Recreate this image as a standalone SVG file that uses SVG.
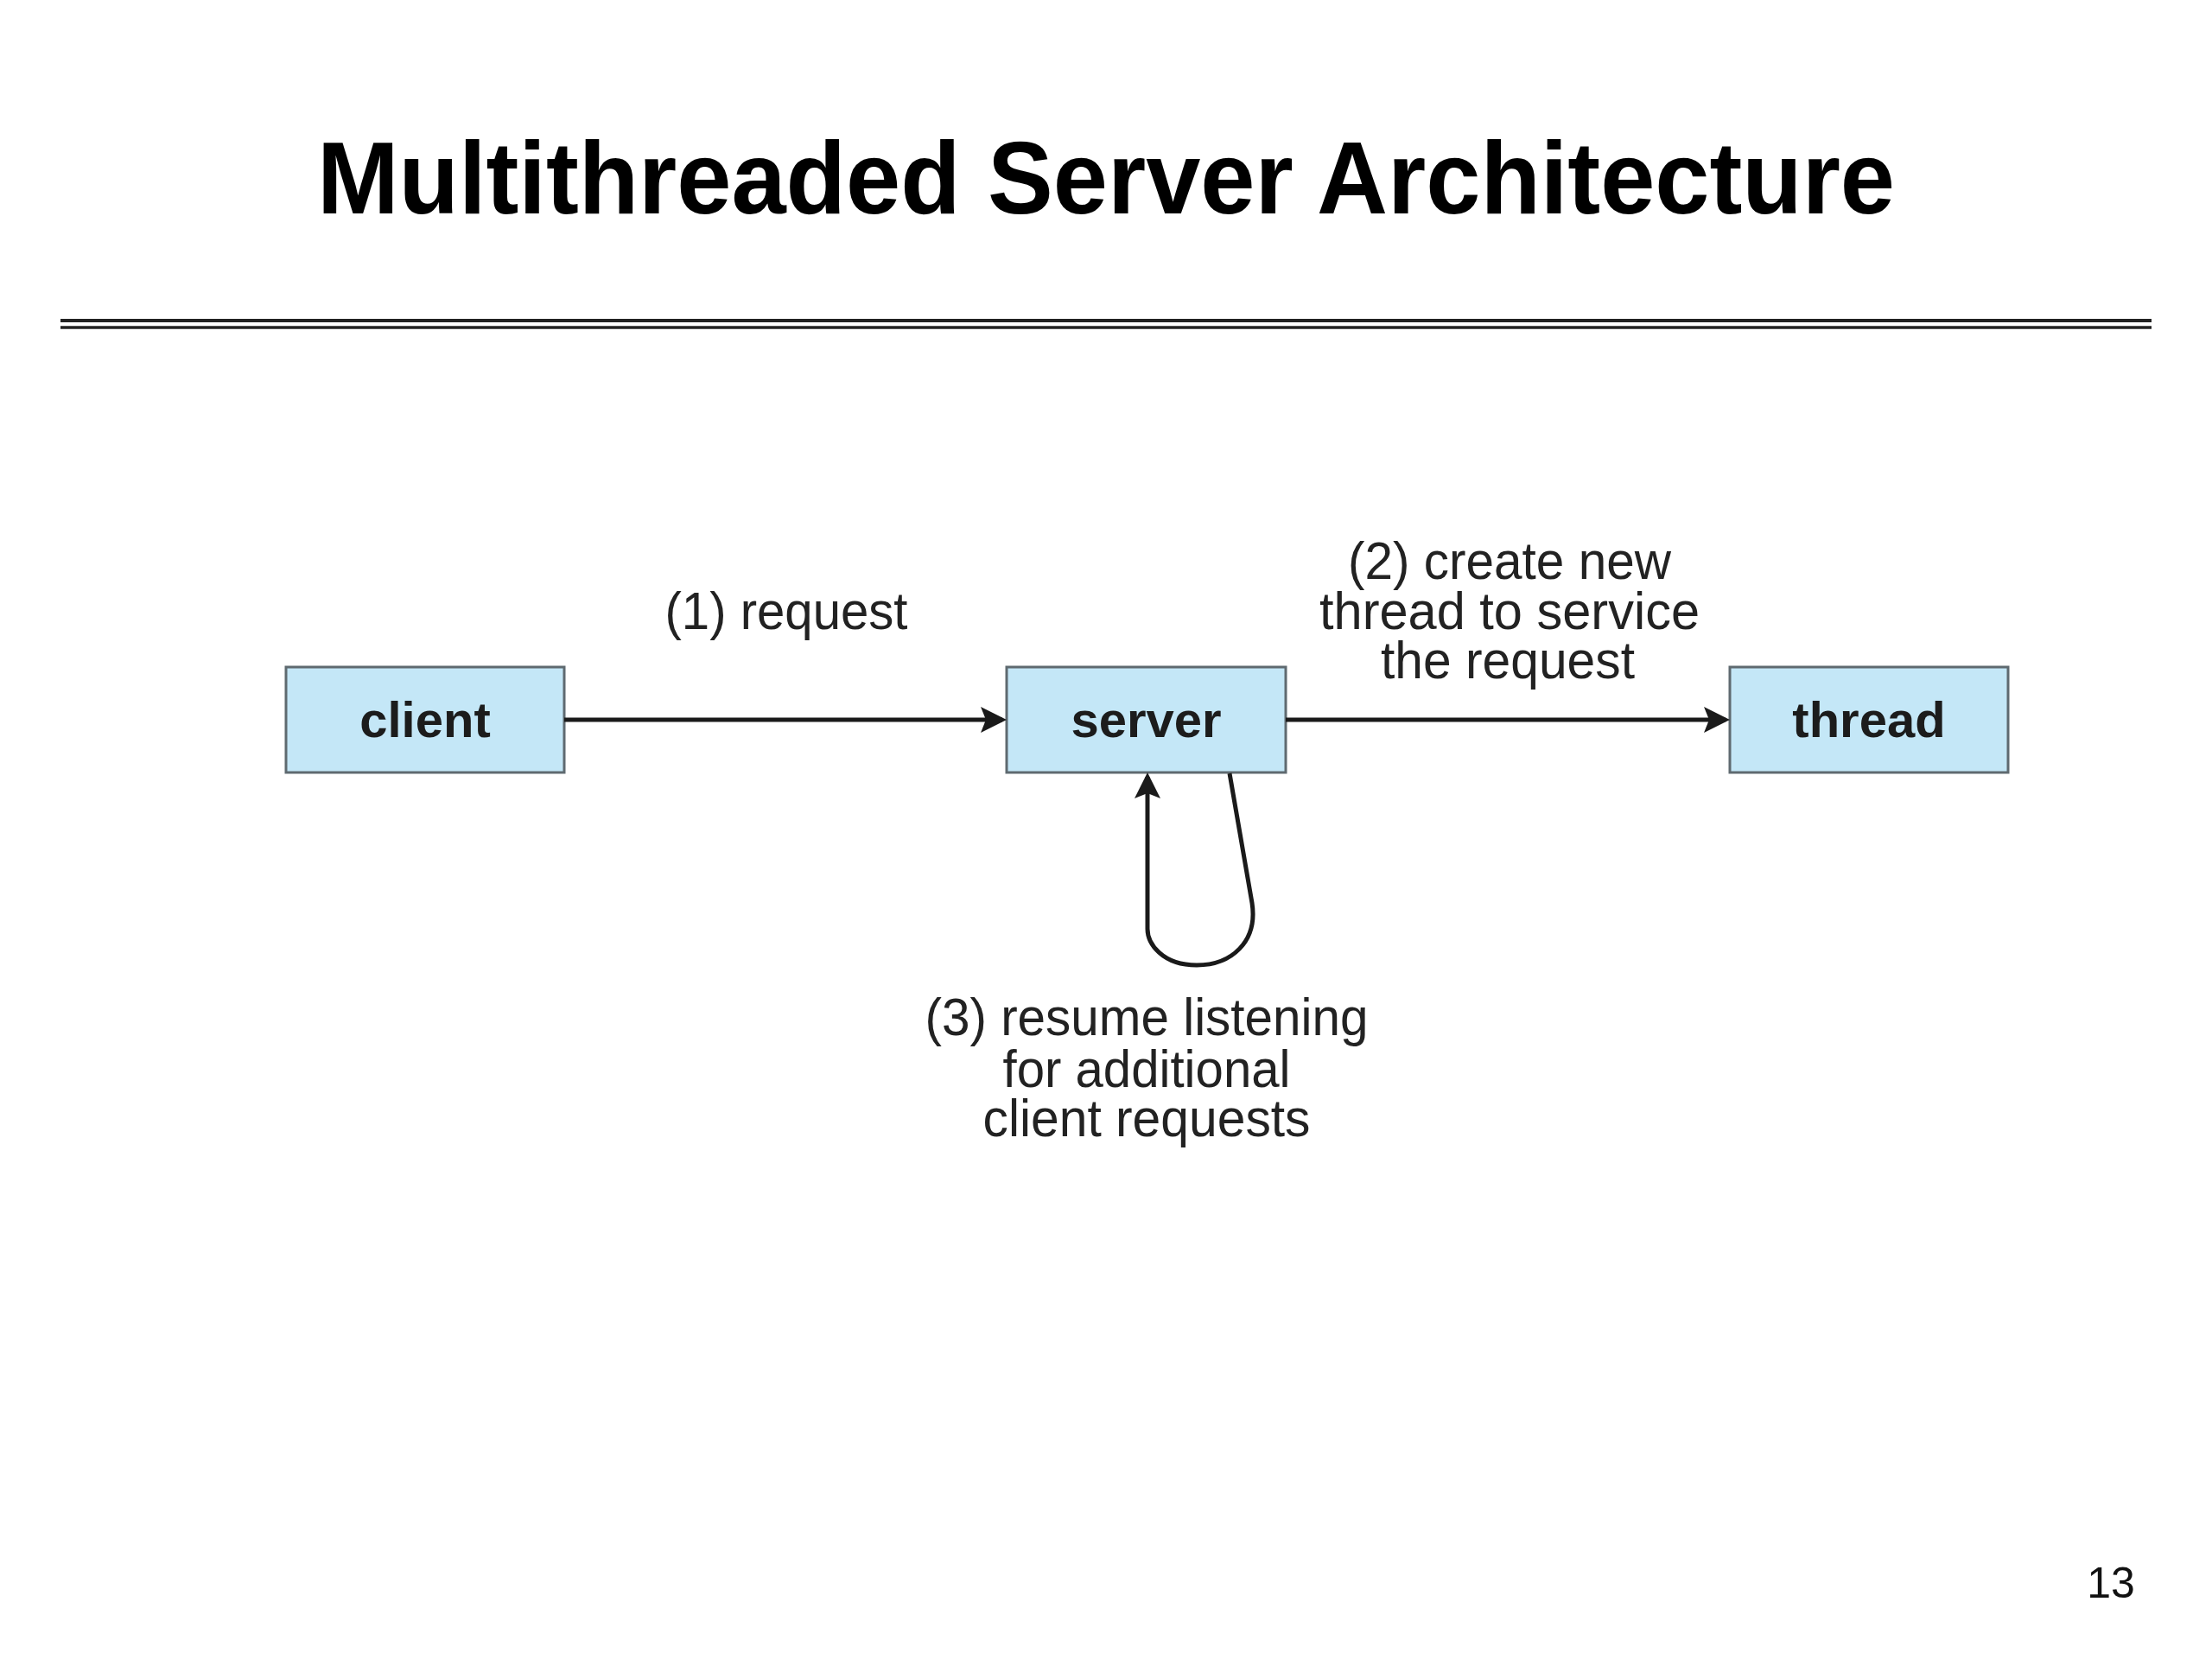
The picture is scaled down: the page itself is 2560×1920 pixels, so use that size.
<svg xmlns="http://www.w3.org/2000/svg" width="2560" height="1920" viewBox="0 0 2560 1920">
  <style>
    .title { font-family: "Liberation Sans", Arial, sans-serif; font-weight: bold; font-size: 118px; fill: #000; }
    .box { fill: #c4e7f7; stroke: #5f6a70; stroke-width: 3; }
    .boxlabel { font-family: "Liberation Sans", Arial, sans-serif; font-weight: bold; font-size: 58px; fill: #1c1c1c; text-anchor: middle; }
    .label { font-family: "Liberation Sans", Arial, sans-serif; font-size: 62px; fill: #222; text-anchor: middle; }
    .conn { fill: none; stroke: #1a1a1a; stroke-width: 5; }
    .rule { stroke: #222; }
    .pagenum { font-family: "Liberation Sans", Arial, sans-serif; font-size: 50px; fill: #111; text-anchor: middle; }
  </style>
  <defs>
    <marker id="arrow" markerUnits="userSpaceOnUse" viewBox="0 0 30 30" refX="25" refY="15" markerWidth="30" markerHeight="30" orient="auto">
      <path d="M0,0 L30,15 L0,30 L6,15 Z" fill="#1a1a1a"/>
    </marker>
  </defs>
  <rect x="0" y="0" width="2560" height="1920" fill="#ffffff"/>

  <g id="title">
    <text class="title" x="1280" y="247" text-anchor="middle" textLength="1826" lengthAdjust="spacingAndGlyphs">Multithreaded Server Architecture</text>
    <line class="rule" x1="70" y1="371" x2="2490" y2="371" stroke-width="4"/>
    <line class="rule" x1="70" y1="379" x2="2490" y2="379" stroke-width="3.5"/>
  </g>

  <g id="client">
    <rect class="box" x="331" y="772" width="322" height="122"/>
    <text class="boxlabel" x="492" y="853">client</text>
  </g>
  <g id="server">
    <rect class="box" x="1165" y="772" width="323" height="122"/>
    <text class="boxlabel" x="1326.5" y="853">server</text>
  </g>
  <g id="thread">
    <rect class="box" x="2002" y="772" width="322" height="122"/>
    <text class="boxlabel" x="2163" y="853">thread</text>
  </g>

  <g id="connectors">
    <line class="conn" x1="653" y1="833" x2="1160" y2="833" marker-end="url(#arrow)"/>
    <line class="conn" x1="1488" y1="833" x2="1997" y2="833" marker-end="url(#arrow)"/>
    <path class="conn" d="M1423,895 L1449,1045 C1456,1090 1425,1117 1385,1117 C1345,1117 1328,1092 1328,1075 L1328,899" marker-end="url(#arrow)"/>
  </g>

  <g id="labels">
    <text class="label" x="910" y="728" textLength="281" lengthAdjust="spacingAndGlyphs">(1) request</text>
    <text class="label" x="1747" y="670" textLength="374" lengthAdjust="spacingAndGlyphs">(2) create new</text>
    <text class="label" x="1747" y="728" textLength="440" lengthAdjust="spacingAndGlyphs">thread to service</text>
    <text class="label" x="1745" y="785" textLength="294" lengthAdjust="spacingAndGlyphs">the request</text>
    <text class="label" x="1327" y="1198" textLength="513" lengthAdjust="spacingAndGlyphs">(3) resume listening</text>
    <text class="label" x="1327" y="1258" textLength="333" lengthAdjust="spacingAndGlyphs">for additional</text>
    <text class="label" x="1327" y="1315" textLength="379" lengthAdjust="spacingAndGlyphs">client requests</text>
  </g>

  <text class="pagenum" x="2443" y="1849">13</text>
</svg>
